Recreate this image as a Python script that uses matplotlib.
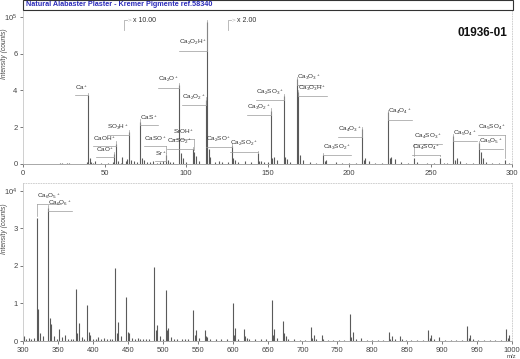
import matplotlib
matplotlib.use("Agg")
import matplotlib.pyplot as plt

plt.rcParams['font.family'] = ['Liberation Sans', 'DejaVu Sans']
plt.rcParams['mathtext.fontset'] = 'custom'
plt.rcParams['mathtext.rm'] = 'Liberation Sans'
plt.rcParams['mathtext.it'] = 'Liberation Sans'

# ---------------- data ----------------
title = "Natural Alabaster Plaster - Kremer Pigmente ref.58340"
sample_id = "01936-01"

top_mz = [23, 24, 27, 28, 39, 40, 41, 42, 43, 44, 48, 52, 55, 56, 57, 58, 60, 61, 63, 64, 65, 66,
          68, 70, 72, 73, 74, 76, 78, 80, 82, 84, 86, 88, 89, 90, 92, 96, 97, 98, 100, 104, 105,
          106, 108, 112, 113, 114, 115, 118, 120, 122, 126, 128, 129, 130, 132, 136, 140, 144,
          145, 146, 148, 150, 152, 153, 154, 156, 160, 161, 162, 164, 168, 169, 170, 172, 176,
          180, 184, 185, 186, 192, 196, 200, 204, 208, 209, 210, 212, 216, 220, 224, 225, 226,
          228, 232, 236, 240, 242, 248, 252, 256, 258, 260, 264, 265, 266, 268, 272, 276, 280,
          281, 282, 284, 288, 292, 296, 298]
top_int = [0.06, 0.04, 0.05, 0.08, 0.1, 3.75, 0.33, 0.12, 0.05, 0.15, 0.05, 0.04, 0.1, 0.55, 1.1,
           0.15, 0.05, 0.4, 0.15, 0.25, 1.75, 0.2, 0.15, 0.1, 2.3, 0.3, 0.2, 0.1, 0.12, 0.15, 0.08,
           0.12, 0.15, 0.5, 0.2, 0.1, 0.12, 4.3, 0.6, 0.3, 0.1, 0.8, 0.65, 0.45, 0.15, 3.5, 7.7,
           0.8, 0.4, 0.1, 0.15, 0.1, 0.1, 1.0, 0.3, 0.2, 0.1, 0.15, 0.1, 0.6, 0.15, 0.15, 0.1,
           0.1, 2.9, 0.3, 0.4, 0.2, 3.7, 0.4, 0.25, 0.1, 4.6, 3.9, 0.5, 0.2, 0.1, 0.08, 0.5, 0.15,
           0.2, 0.1, 0.06, 0.08, 0.06, 1.9, 0.2, 0.3, 0.15, 0.08, 0.06, 2.8, 0.3, 0.4, 0.25, 0.1,
           0.06, 0.3, 0.1, 0.08, 0.05, 0.3, 0.08, 0.05, 1.5, 0.2, 0.3, 0.15, 0.08, 0.05, 1.15,
           0.67, 0.3, 0.1, 0.06, 0.05, 0.2, 0.05]

bot_mz = [302, 305, 308, 312, 316, 320, 322, 324, 328, 336, 338, 340, 344, 348, 352, 356, 360,
          364, 368, 372, 376, 378, 380, 384, 388, 392, 394, 396, 400, 404, 408, 412, 416, 420,
          424, 428, 432, 434, 436, 440, 448, 450, 452, 456, 460, 464, 468, 472, 476, 480, 488,
          490, 492, 496, 500, 504, 506, 508, 512, 516, 520, 528, 532, 536, 544, 546, 548, 552,
          560, 562, 564, 568, 576, 584, 592, 600, 602, 604, 608, 616, 618, 620, 624, 632, 640,
          648, 656, 658, 660, 664, 672, 674, 676, 680, 688, 696, 704, 712, 714, 716, 720, 728,
          730, 736, 744, 752, 760, 768, 770, 772, 776, 784, 792, 800, 808, 816, 824, 826, 828,
          832, 840, 842, 848, 856, 864, 872, 880, 882, 884, 888, 896, 904, 912, 920, 928, 936,
          938, 940, 944, 952, 960, 968, 976, 984, 992, 994, 996]
bot_int = [0.12, 0.06, 0.08, 0.05, 0.07, 3.28, 0.85, 0.2, 0.12, 3.55, 0.6, 0.45, 0.12, 0.05,
           0.33, 0.1, 0.15, 0.05, 0.06, 0.05, 1.38, 0.2, 0.47, 0.1, 0.05, 0.95, 0.25, 0.15, 0.06,
           0.05, 0.1, 0.05, 0.08, 0.05, 0.04, 0.05, 1.95, 0.2, 0.5, 0.12, 1.18, 0.25, 0.2, 0.08,
           0.05, 0.07, 0.05, 0.06, 0.04, 0.05, 1.98, 0.3, 0.43, 0.12, 0.06, 1.35, 0.3, 0.35, 0.1,
           0.05, 0.06, 0.05, 0.04, 0.05, 0.82, 0.15, 0.3, 0.08, 0.3, 0.12, 0.1, 0.05, 0.04, 0.05,
           0.04, 1.0, 0.15, 0.35, 0.06, 0.32, 0.12, 0.08, 0.04, 0.04, 0.05, 0.04, 1.1, 0.15, 0.32,
           0.08, 0.52, 0.2, 0.12, 0.06, 0.05, 0.03, 0.03, 0.36, 0.08, 0.15, 0.04, 0.15, 0.06,
           0.03, 0.03, 0.03, 0.03, 0.72, 0.1, 0.25, 0.06, 0.08, 0.03, 0.03, 0.02, 0.02, 0.25,
           0.06, 0.12, 0.04, 0.13, 0.05, 0.02, 0.02, 0.02, 0.02, 0.29, 0.07, 0.15, 0.04, 0.1,
           0.02, 0.02, 0.02, 0.02, 0.4, 0.08, 0.17, 0.04, 0.03, 0.02, 0.02, 0.02, 0.02, 0.32,
           0.08, 0.17]

# peak labels: (text, peak m/z)
top_labels = [r'Ca$^+$', r'CaO$^+$', r'CaOH$^+$', r'SO$_3$H$^+$', r'CaS$^+$', r'CaSO$^+$',
              r'Sr$^+$', r'SrOH$^+$', r'CaSO$_2$$^+$', r'Ca$_2$O$^+$', r'Ca$_2$O$_2$H$^+$',
              r'Ca$_2$O$_2$$^+$', r'Ca$_2$SO$^+$', r'Ca$_2$SO$_2$$^+$', r'Ca$_3$O$_2$$^+$',
              r'Ca$_2$SO$_3$$^+$', r'Ca$_3$O$_3$$^+$', r'Ca$_3$O$_3$H$^+$', r'Ca$_3$SO$_2$$^+$',
              r'Ca$_4$O$_3$$^+$', r'Ca$_4$O$_4$$^+$', r'Ca$_4$SO$_3$$^+$', r'Ca$_4$SO$_4$$^+$',
              r'Ca$_5$O$_4$$^+$', r'Ca$_5$O$_5$$^+$', r'Ca$_5$SO$_4$$^+$']
top_label_mz = [40, 56, 57, 65, 72, 88, 88, 105, 104, 96, 113, 112, 128, 144, 152, 160, 168,
                169, 184, 208, 224, 240, 256, 264, 280, 296]
bot_labels = [r'Ca$_6$O$_5$$^+$', r'Ca$_6$O$_6$$^+$']
bot_label_mz = [320, 336]

scale_marks = ['x 10.00', 'x 2.00']
scale_mz = [62, 126]

# layout of labels (label height in axis units, side of the peak)
top_label_y = [4.13, 0.76, 1.36, 2.0, 2.5, 1.36, 0.55, 1.74, 1.21, 4.57, 6.58, 3.64, 1.36,
               1.09, 3.1, 3.9, 4.73, 4.13, 0.92, 1.9, 2.83, 1.52, 0.92, 1.68, 1.25, 2.0]
top_label_side = ['L', 'L', 'L', 'L', 'R', 'L', 'L', 'L', 'L', 'L', 'L', 'L', 'L', 'L', 'L',
                  'L', 'R', 'R', 'R', 'L', 'R', 'R', 'L', 'R', 'R', 'L']
bot_label_y = [3.86, 3.66]
bot_label_side = ['R', 'R']

# ---------------- figure ----------------
W, H = 520, 359
fig = plt.figure(figsize=(W / 100, H / 100), dpi=100)

def px_axes(x0, y_top, x1, y_bot):
    return fig.add_axes([x0 / W, 1 - y_bot / H, (x1 - x0) / W, (y_bot - y_top) / H])

ax1 = px_axes(23, 11.3, 512, 164)
ax2 = px_axes(23, 183, 512, 341)

spec_col = '#5a5a5a'
lab_col = '#333333'
lead_col = '#9a9a9a'
tick_col = '#444444'

for ax in (ax1, ax2):
    ax.spines['top'].set_visible(False)
    ax.spines['right'].set_linestyle((0, (1, 2)))
    ax.spines['right'].set_color('#c8c8c8')
    ax.spines['right'].set_linewidth(0.6)
    ax.spines['left'].set_color('#c8c8c8')
    ax.spines['left'].set_linewidth(0.6)
    ax.spines['bottom'].set_color('#9a9a9a')
    ax.spines['bottom'].set_linewidth(0.6)
    ax.tick_params(labelsize=5.5, colors=tick_col, length=2, width=0.5, pad=2)
    ax.set_ylabel('Intensity (counts)', fontsize=4.8, color=tick_col, fontstyle='italic')
ax2.spines['top'].set_visible(True)
ax2.spines['top'].set_linestyle((0, (1, 2)))
ax2.spines['top'].set_color('#c8c8c8')
ax2.spines['top'].set_linewidth(0.6)

ax1.vlines(top_mz, 0, top_int, color=spec_col, lw=0.8)
ax2.vlines(bot_mz, 0, bot_int, color=spec_col, lw=0.8)

ax1.set_xlim(0, 300)
ax1.set_ylim(0, 8.3)
ax1.set_xticks([0, 50, 100, 150, 200, 250, 300])
ax1.set_yticks([0, 2, 4, 6, 8])
ax1.set_yticklabels(['0', '2', '4', '6', r'10$^5$'])
ax1.yaxis.set_label_coords(-0.031, 0.72)

ax2.set_xlim(300, 1000)
ax2.set_ylim(0, 4.21)
ax2.set_xticks([300, 350, 400, 450, 500, 550, 600, 650, 700, 750, 800, 850, 900, 950, 1000])
ax2.set_yticks([0, 1, 2, 3, 4])
ax2.set_yticklabels(['0', '1', '2', '3', r'10$^4$'])
ax2.yaxis.set_label_coords(-0.031, 0.71)

fig.text(511 / W, 1 - 356.5 / H, 'm/z', fontsize=4.3, color=tick_col, ha='center', va='center')

# title box
fig.patches.append(plt.Rectangle((23 / W, 1 - 10 / H), (513 - 23) / W, 9.5 / H,
                                 transform=fig.transFigure, fill=False, ec='#333333', lw=0.8))
fig.text(26 / W, 1 - 5 / H, title, fontsize=5.2, fontweight='bold', color='#2a2ab8',
         ha='left', va='center')
fig.text(482 / W, 1 - 33 / H, sample_id, fontsize=8.5, fontweight='bold', color='#111111',
         ha='center', va='center')

def annotate(ax, labels, mzs, mzlist, ints, ys, sides):
    texts = []
    for lab, mz, y, side in zip(labels, mzs, ys, sides):
        t = ax.text(mz, y, lab, fontsize=4.6, color=lab_col,
                    ha='right' if side == 'L' else 'left', va='center')
        texts.append((t, mz, side))
    fig.canvas.draw()
    inv = ax.transData.inverted()
    for t, mz, side in texts:
        bb = t.get_window_extent()
        (x0, y0), (x1, y1) = inv.transform([[bb.x0, bb.y0], [bb.x1, bb.y1]])
        uy = y0 - 0.02 * (ax.get_ylim()[1])
        ax.plot([x0, x1], [uy, uy], color=lead_col, lw=0.5)
        h = ints[mzlist.index(mz)]
        ax.plot([mz, mz], [uy, h + 0.015 * ax.get_ylim()[1]], color=lead_col, lw=0.5)

annotate(ax1, top_labels, top_label_mz, top_mz, top_int, top_label_y, top_label_side)
annotate(ax2, bot_labels, bot_label_mz, bot_mz, bot_int, bot_label_y, bot_label_side)

# scale change markers
for txt, mz in zip(scale_marks, scale_mz):
    ax1.plot([mz, mz, mz + 1.8], [7.3, 7.85, 7.85], color='#b0b0b0', lw=0.6)
    ax1.text(mz + 2.2, 7.82, '>', fontsize=4.6, color='#b0b0b0', ha='left', va='center')
    ax1.text(mz + 5.5, 7.82, txt, fontsize=5, color=lab_col, ha='left', va='center')

fig.savefig('out.png', dpi=100)
